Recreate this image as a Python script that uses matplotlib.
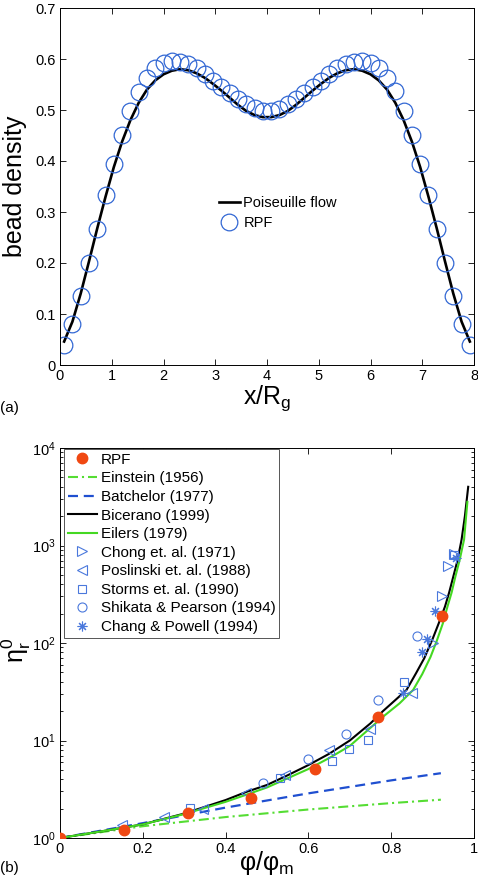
import numpy as np
import matplotlib
matplotlib.use('Agg')
from matplotlib import pyplot as plt

plt.rcParams['font.family'] = ['Liberation Sans', 'DejaVu Sans']
plt.rcParams['mathtext.fontset'] = 'custom'
plt.rcParams['mathtext.rm'] = 'Liberation Sans'
plt.rcParams['mathtext.it'] = 'Liberation Sans'
plt.rcParams['mathtext.default'] = 'regular'
plt.rcParams['axes.linewidth'] = 0.7

# ---------------- (a) bead density across the channel ----------------
x_top = [0.08, 0.24, 0.40, 0.56, 0.72, 0.88, 1.04, 1.20, 1.36, 1.52,
         1.68, 1.84, 2.00, 2.16, 2.32, 2.48, 2.64, 2.80, 2.96, 3.12,
         3.28, 3.44, 3.60, 3.76, 3.92, 4.08, 4.24, 4.40, 4.56, 4.72,
         4.88, 5.04, 5.20, 5.36, 5.52, 5.68, 5.84, 6.00, 6.16, 6.32,
         6.48, 6.64, 6.80, 6.96, 7.12, 7.28, 7.44, 7.60, 7.76, 7.92]
rpf_density = [0.040, 0.080, 0.135, 0.200, 0.267, 0.333, 0.395, 0.451, 0.498, 0.536,
               0.562, 0.582, 0.592, 0.596, 0.595, 0.590, 0.582, 0.570, 0.557, 0.546,
               0.533, 0.522, 0.512, 0.503, 0.499, 0.498, 0.502, 0.511, 0.521, 0.533,
               0.545, 0.557, 0.570, 0.582, 0.590, 0.595, 0.596, 0.592, 0.583, 0.563,
               0.537, 0.499, 0.451, 0.395, 0.333, 0.267, 0.200, 0.135, 0.080, 0.040]
poiseuille = [0.046, 0.085, 0.140, 0.203, 0.268, 0.330, 0.388, 0.438, 0.480, 0.514,
              0.540, 0.558, 0.570, 0.577, 0.580, 0.578, 0.572, 0.563, 0.551, 0.538,
              0.524, 0.510, 0.498, 0.490, 0.486, 0.486, 0.490, 0.498, 0.510, 0.524,
              0.538, 0.551, 0.563, 0.572, 0.578, 0.580, 0.577, 0.570, 0.558, 0.540,
              0.514, 0.480, 0.438, 0.388, 0.330, 0.268, 0.203, 0.140, 0.085, 0.046]

# ---------------- (b) relative viscosity ----------------
rpf_x = [0.0, 0.154, 0.308, 0.462, 0.615, 0.769, 0.923]
rpf_eta = [1.0, 1.2, 1.8, 2.6, 5.1, 17.5, 190]

einstein_x = [0.0, 0.2, 0.4, 0.6, 0.8, 0.92]
einstein_y = [1.0, 1.32, 1.64, 1.96, 2.28, 2.47]
batchelor_x = [0.0, 0.2, 0.4, 0.6, 0.8, 0.92]
batchelor_y = [1.0, 1.42, 2.05, 2.87, 3.9, 4.62]
bicerano_x = [0.0, 0.1, 0.2, 0.3, 0.4, 0.45, 0.5, 0.55, 0.6, 0.65, 0.7, 0.75, 0.78,
              0.81, 0.837, 0.86, 0.88, 0.9, 0.915, 0.93, 0.94, 0.95, 0.96, 0.97, 0.978, 0.986]
bicerano_y = [1.0, 1.17, 1.38, 1.78, 2.45, 2.97, 3.5, 4.4, 5.6, 7.3, 10.0, 15.0, 20.0,
              26.0, 33.0, 49.0, 70.0, 110, 160, 237, 330, 480, 700, 1150, 2000, 4000]
eilers_x = [0.0, 0.1, 0.2, 0.3, 0.4, 0.45, 0.5, 0.55, 0.6, 0.65, 0.7, 0.75, 0.78,
            0.82, 0.853, 0.875, 0.895, 0.91, 0.925, 0.936, 0.946, 0.955, 0.965, 0.976, 0.984]
eilers_y = [1.0, 1.17, 1.38, 1.76, 2.35, 2.78, 3.3, 4.1, 5.1, 6.6, 8.8, 13.5, 17.5,
            24.0, 33.0, 48.0, 72.0, 105, 160, 237, 330, 480, 700, 1150, 2800]

chong_x = [0.902, 0.923, 0.937, 0.952]
chong_y = [101, 305, 615, 820]
poslinski_x = [0.149, 0.25, 0.346, 0.45, 0.543, 0.65, 0.749, 0.851]
poslinski_y = [1.35, 1.65, 1.97, 2.87, 4.4, 8.05, 13.2, 30.5]
storms_x = [0.314, 0.531, 0.656, 0.699, 0.745, 0.830, 0.952]
storms_y = [2.03, 4.1, 6.1, 8.2, 10.2, 40.0, 800]
shikata_x = [0.491, 0.6, 0.692, 0.769, 0.862]
shikata_y = [3.7, 6.45, 11.6, 26.0, 118]
chang_x = [0.829, 0.875, 0.886, 0.905, 0.956]
chang_y = [31.0, 81.0, 111, 213, 750]

blue = '#4a78dc'

fig = plt.figure(figsize=(4.78, 8.76), dpi=100)

# top panel
ax1 = fig.add_axes([60/478, 1-365/876, 414/478, 357/876])
ax1.plot(x_top, poiseuille, color='k', lw=1.9, label='Poiseuille flow')
ax1.plot(x_top, rpf_density, 'o', mfc='none', mec='#3368d4', ms=12, mew=0.9, label='RPF')
ax1.set_xlim(0, 8)
ax1.set_ylim(0, 0.7)
ax1.set_xticks(range(0, 9))
ax1.set_yticks([0, 0.1, 0.2, 0.3, 0.4, 0.5, 0.6, 0.7])
ax1.set_yticklabels(['0', '0.1', '0.2', '0.3', '0.4', '0.5', '0.6', '0.7'])
ax1.tick_params(direction='in', top=True, right=True, length=4.5, width=0.6,
                labelsize=10.5, pad=3)
ax1.set_xlabel('$x/R_g$', fontsize=18, labelpad=0)
ax1.set_ylabel('bead density', fontsize=18, labelpad=6)
ax1.legend(loc='upper left', bbox_to_anchor=(0.383, 0.474), frameon=False,
           fontsize=10.5, handlelength=1.5, handletextpad=0.2, labelspacing=0.42,
           borderpad=0, borderaxespad=0, numpoints=1)
fig.text(0.0, 1-408/876, '(a)', fontsize=11, va='center')

# bottom panel
ax2 = fig.add_axes([60/478, 38/876, 414/478, 390/876])
ax2.set_yscale('log')
ax2.plot(rpf_x, rpf_eta, 'o', color='#f04812', ms=7.5, zorder=5, label='RPF')
ax2.plot(einstein_x, einstein_y, color='#55dd33', lw=1.5, dashes=(4.8, 1.9, 1.0, 1.9),
         label='Einstein (1956)')
ax2.plot(batchelor_x, batchelor_y, color='#1f4fd0', lw=1.6, dashes=(4.5, 2.6),
         label='Batchelor (1977)')
ax2.plot(bicerano_x, bicerano_y, color='k', lw=1.5, label='Bicerano (1999)')
ax2.plot(eilers_x, eilers_y, color='#44d822', lw=1.5, label='Eilers (1979)')
mk = dict(ls='none', mfc='none', mec=blue, mew=0.8)
ax2.plot(chong_x, chong_y, '>', ms=7, label='Chong et. al. (1971)', **mk)
ax2.plot(poslinski_x, poslinski_y, '<', ms=7, label='Poslinski et. al. (1988)', **mk)
ax2.plot(storms_x, storms_y, 's', ms=6, label='Storms et. al. (1990)', **mk)
ax2.plot(shikata_x, shikata_y, 'o', ms=6.5, label='Shikata & Pearson (1994)', **mk)
ax2.plot(chang_x, chang_y, marker=(8, 2, 0), ms=7, label='Chang & Powell (1994)', **mk)
ax2.set_xlim(0, 1)
ax2.set_ylim(1, 1e4)
ax2.set_xticks([0, 0.2, 0.4, 0.6, 0.8, 1])
ax2.set_xticklabels(['0', '0.2', '0.4', '0.6', '0.8', '1'])
ax2.tick_params(which='both', direction='in', top=True, right=True, width=0.6,
                labelsize=10.5, pad=3)
ax2.tick_params(which='major', length=4.5)
ax2.tick_params(which='minor', length=2.5)
ax2.set_xlabel('$φ/φ_m$', fontsize=18, labelpad=-5)
ax2.set_ylabel('$η_r^0$', fontsize=18)
ax2.yaxis.set_label_coords(-0.066, 0.48)
leg = ax2.legend(loc='upper left', bbox_to_anchor=(4/414, 1 - 1/390), fontsize=11,
                 fancybox=False, edgecolor='#555555', framealpha=1,
                 handlelength=1.9, handletextpad=0.25, labelspacing=0.3,
                 borderpad=0.25, borderaxespad=0, numpoints=1)
leg.get_frame().set_linewidth(0.7)
fig.text(0.0, 1-868/876, '(b)', fontsize=11, va='center')

fig.savefig('out.png', dpi=100)
